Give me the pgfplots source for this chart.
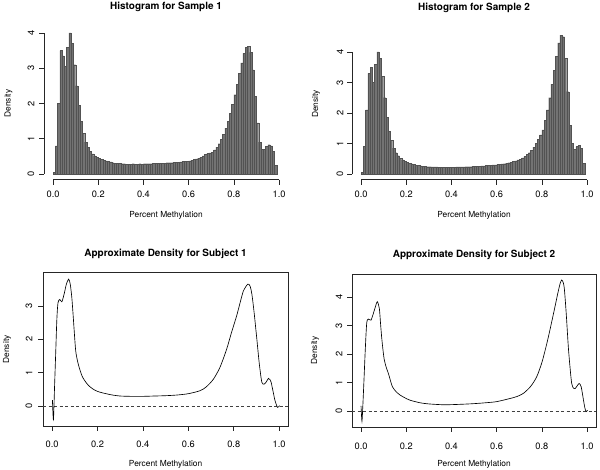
\documentclass[border=0pt]{standalone}
\usepackage{pgfplots}
\pgfplotsset{compat=1.18}
\usepackage{fontspec}
\setmainfont{TeX Gyre Heros}

\pgfplotstableread{
x y
0.00 0.05
0.01 0.8
0.02 2.0
0.03 3.5
0.04 3.35
0.05 3.05
0.06 3.6
0.07 4.0
0.08 3.7
0.09 3.1
0.10 2.5
0.11 1.95
0.12 1.5
0.13 1.15
0.14 0.9
0.15 0.75
0.16 0.64
0.17 0.57
0.18 0.51
0.19 0.47
0.20 0.44
0.21 0.41
0.22 0.39
0.23 0.37
0.24 0.35
0.25 0.34
0.26 0.32
0.27 0.31
0.28 0.30
0.29 0.30
0.30 0.29
0.31 0.29
0.32 0.28
0.33 0.28
0.34 0.28
0.35 0.29
0.36 0.28
0.37 0.28
0.38 0.29
0.39 0.28
0.40 0.29
0.41 0.29
0.42 0.29
0.43 0.29
0.44 0.30
0.45 0.30
0.46 0.30
0.47 0.31
0.48 0.30
0.49 0.31
0.50 0.32
0.51 0.32
0.52 0.32
0.53 0.33
0.54 0.33
0.55 0.33
0.56 0.34
0.57 0.35
0.58 0.35
0.59 0.36
0.60 0.37
0.61 0.39
0.62 0.41
0.63 0.43
0.64 0.45
0.65 0.48
0.66 0.51
0.67 0.55
0.68 0.58
0.69 0.60
0.70 0.62
0.71 0.68
0.72 0.76
0.73 0.86
0.74 0.98
0.75 1.12
0.76 1.3
0.77 1.5
0.78 1.72
0.79 1.98
0.80 2.25
0.81 2.55
0.82 2.85
0.83 3.15
0.84 3.42
0.85 3.6
0.86 3.62
0.87 3.45
0.88 2.95
0.89 2.2
0.90 1.45
0.91 0.9
0.92 0.7
0.93 0.7
0.94 0.78
0.95 0.83
0.96 0.8
0.97 0.65
0.98 0.25
0.99 0
}\histA

\pgfplotstableread{
x y
0.00 0.05
0.01 0.9
0.02 2.1
0.03 3.3
0.04 3.5
0.05 3.0
0.06 3.6
0.07 4.0
0.08 3.8
0.09 3.2
0.10 2.5
0.11 1.85
0.12 1.4
0.13 1.1
0.14 0.85
0.15 0.7
0.16 0.6
0.17 0.52
0.18 0.46
0.19 0.41
0.20 0.38
0.21 0.35
0.22 0.33
0.23 0.31
0.24 0.29
0.25 0.28
0.26 0.27
0.27 0.26
0.28 0.25
0.29 0.24
0.30 0.24
0.31 0.23
0.32 0.23
0.33 0.23
0.34 0.22
0.35 0.22
0.36 0.22
0.37 0.22
0.38 0.22
0.39 0.22
0.40 0.22
0.41 0.22
0.42 0.23
0.43 0.23
0.44 0.23
0.45 0.23
0.46 0.24
0.47 0.24
0.48 0.24
0.49 0.25
0.50 0.25
0.51 0.26
0.52 0.26
0.53 0.27
0.54 0.27
0.55 0.28
0.56 0.28
0.57 0.29
0.58 0.30
0.59 0.30
0.60 0.31
0.61 0.32
0.62 0.33
0.63 0.34
0.64 0.36
0.65 0.37
0.66 0.39
0.67 0.41
0.68 0.43
0.69 0.46
0.70 0.49
0.71 0.53
0.72 0.58
0.73 0.64
0.74 0.70
0.75 0.78
0.76 0.88
0.77 1.0
0.78 1.13
0.79 1.28
0.80 1.45
0.81 1.75
0.82 2.1
0.83 2.5
0.84 2.95
0.85 3.4
0.86 3.85
0.87 4.3
0.88 4.55
0.89 4.5
0.90 3.8
0.91 2.7
0.92 1.6
0.93 1.0
0.94 0.8
0.95 0.9
0.96 0.95
0.97 0.85
0.98 0.35
0.99 0
}\histB

\pgfplotstableread{
x y
0.0015 0.18
0.006 -0.41
0.011 0.6
0.016 1.6
0.021 2.6
0.026 3.1
0.034 3.2
0.043 3.13
0.053 3.36
0.063 3.66
0.073 3.81
0.080 3.66
0.087 3.25
0.093 2.7
0.098 2.2
0.104 1.66
0.112 1.35
0.122 1.1
0.132 0.9
0.144 0.76
0.160 0.62
0.180 0.51
0.200 0.44
0.225 0.39
0.266 0.33
0.300 0.30
0.350 0.29
0.400 0.29
0.450 0.30
0.500 0.31
0.550 0.33
0.600 0.37
0.652 0.46
0.680 0.58
0.711 0.81
0.740 1.17
0.769 1.71
0.790 2.2
0.813 2.71
0.830 3.15
0.843 3.46
0.862 3.66
0.872 3.6
0.880 3.36
0.890 2.8
0.902 2.0
0.913 1.25
0.924 0.71
0.935 0.66
0.945 0.74
0.953 0.83
0.960 0.79
0.965 0.71
0.973 0.45
0.982 0.16
0.993 -0.04
1.002 0.01
}\densA

\pgfplotstableread{
x y
0.000 0.18
0.004 -0.36
0.008 0.2
0.013 1.09
0.019 2.2
0.025 3.08
0.032 3.23
0.044 3.19
0.057 3.49
0.065 3.7
0.072 3.84
0.081 3.6
0.086 3.1
0.091 2.61
0.097 2.15
0.103 1.79
0.112 1.52
0.121 1.32
0.130 1.07
0.139 0.85
0.155 0.68
0.173 0.56
0.195 0.46
0.217 0.38
0.261 0.29
0.300 0.25
0.370 0.22
0.450 0.24
0.500 0.26
0.550 0.29
0.600 0.33
0.659 0.44
0.690 0.51
0.718 0.62
0.750 0.86
0.777 1.2
0.800 1.7
0.822 2.37
0.840 3.0
0.858 3.66
0.871 4.15
0.881 4.48
0.888 4.6
0.895 4.5
0.900 4.25
0.908 3.4
0.917 2.26
0.925 1.5
0.932 0.97
0.940 0.8
0.947 0.79
0.955 0.87
0.965 0.97
0.974 0.85
0.984 0.39
0.990 0.12
0.996 -0.02
1.002 0.03
}\densB

\tikzset{rline/.style={line width=0.6bp, draw=black!85},
  tl/.style={font=\fontsize{9.3}{11}\selectfont}}

\begin{document}
\begin{tikzpicture}[font=\fontsize{8.4}{10}\selectfont]
\useasboundingbox (0,0) rectangle (600bp,470bp);

% ---------- Top left: histogram 1
\begin{axis}[at={(44bp,290.4bp)}, anchor=south west, scale only axis,
  width=244.1bp, height=152.3bp, xmin=-0.04, xmax=1.04, ymin=-0.16, ymax=4.16,
  hide axis, clip=false]
\addplot[ybar interval, fill=black!55, draw=black!68, line width=0.25bp] table[x=x,y=y] {\histA};
\draw[rline] (axis cs:0,-0.16) -- (axis cs:1,-0.16);
\pgfplotsinvokeforeach{0.0,0.2,0.4,0.6,0.8,1.0}{
  \draw[rline] (axis cs:#1,-0.16) -- ++(0bp,-5bp);
  \node[tl] at ([yshift=-14.5bp]axis cs:#1,-0.16) {#1};
}
\draw[rline] (axis cs:-0.04,0) -- (axis cs:-0.04,4);
\pgfplotsinvokeforeach{0,1,2,3,4}{
  \draw[rline] (axis cs:-0.04,#1) -- ++(-5bp,0bp);
  \node[tl,rotate=90] at ([xshift=-13bp]axis cs:-0.04,#1) {#1};
}
\node at ([yshift=-36bp]axis cs:0.5,-0.16) {Percent Methylation};
\node[rotate=90] at ([xshift=-35.5bp]axis cs:-0.04,2) {Density};
\node[font=\bfseries\fontsize{10}{12}\selectfont] at ([yshift=20bp]axis cs:0.5,4.16) {Histogram for Sample 1};
\end{axis}

% ---------- Top right: histogram 2
\begin{axis}[at={(352bp,290.2bp)}, anchor=south west, scale only axis,
  width=244.1bp, height=151.6bp, xmin=-0.04, xmax=1.04, ymin=-0.19, ymax=4.78,
  hide axis, clip=false]
\addplot[ybar interval, fill=black!55, draw=black!68, line width=0.25bp] table[x=x,y=y] {\histB};
\draw[rline] (axis cs:0,-0.19) -- (axis cs:1,-0.19);
\pgfplotsinvokeforeach{0.0,0.2,0.4,0.6,0.8,1.0}{
  \draw[rline] (axis cs:#1,-0.19) -- ++(0bp,-5bp);
  \node[tl] at ([yshift=-14.5bp]axis cs:#1,-0.19) {#1};
}
\draw[rline] (axis cs:-0.04,0) -- (axis cs:-0.04,4);
\pgfplotsinvokeforeach{0,1,2,3,4}{
  \draw[rline] (axis cs:-0.04,#1) -- ++(-5bp,0bp);
  \node[tl,rotate=90] at ([xshift=-12bp]axis cs:-0.04,#1) {#1};
}
\node at ([yshift=-36bp]axis cs:0.5,-0.19) {Percent Methylation};
\node[rotate=90] at ([xshift=-36bp]axis cs:-0.04,2.3) {Density};
\node[font=\bfseries\fontsize{10}{12}\selectfont] at ([yshift=20bp]axis cs:0.5,4.78) {Histogram for Sample 2};
\end{axis}

% ---------- Bottom left: density 1
\begin{axis}[at={(43bp,44bp)}, anchor=south west, scale only axis,
  width=245.2bp, height=153.2bp, xmin=-0.04, xmax=1.04, ymin=-0.6, ymax=4.0,
  hide axis, clip=false]
\draw[rline] (axis cs:-0.04,-0.6) rectangle (axis cs:1.04,4.0);
\draw[black!75, line width=0.6bp, dash pattern=on 3bp off 2.5bp] (axis cs:-0.04,0) -- (axis cs:1.04,0);
\addplot[black, line width=0.65bp, smooth, tension=0.45] table[x=x,y=y] {\densA};
\pgfplotsinvokeforeach{0.0,0.2,0.4,0.6,0.8,1.0}{
  \draw[rline] (axis cs:#1,-0.6) -- ++(0bp,-5bp);
  \node[tl] at ([yshift=-18bp]axis cs:#1,-0.6) {#1};
}
\pgfplotsinvokeforeach{0,1,2,3}{
  \draw[rline] (axis cs:-0.04,#1) -- ++(-5bp,0bp);
  \node[tl,rotate=90] at ([xshift=-14bp]axis cs:-0.04,#1) {#1};
}
\node at ([yshift=-38bp]axis cs:0.5,-0.6) {Percent Methylation};
\node[rotate=90] at ([xshift=-36bp]axis cs:-0.04,1.7) {Density};
\node[font=\bfseries\fontsize{10}{12}\selectfont] at ([yshift=19bp]axis cs:0.5,4.0) {Approximate Density for Subject 1};
\end{axis}

% ---------- Bottom right: density 2
\begin{axis}[at={(352bp,43bp)}, anchor=south west, scale only axis,
  width=244.1bp, height=153bp, xmin=-0.04, xmax=1.04, ymin=-0.56, ymax=4.81,
  hide axis, clip=false]
\draw[rline] (axis cs:-0.04,-0.56) rectangle (axis cs:1.04,4.81);
\draw[black!75, line width=0.6bp, dash pattern=on 3bp off 2.5bp] (axis cs:-0.04,0) -- (axis cs:1.04,0);
\addplot[black, line width=0.65bp, smooth, tension=0.45] table[x=x,y=y] {\densB};
\pgfplotsinvokeforeach{0.0,0.2,0.4,0.6,0.8,1.0}{
  \draw[rline] (axis cs:#1,-0.56) -- ++(0bp,-5bp);
  \node[tl] at ([yshift=-19bp]axis cs:#1,-0.56) {#1};
}
\pgfplotsinvokeforeach{0,1,2,3,4}{
  \draw[rline] (axis cs:-0.04,#1) -- ++(-5bp,0bp);
  \node[tl,rotate=90] at ([xshift=-13bp]axis cs:-0.04,#1) {#1};
}
\node at ([yshift=-37bp]axis cs:0.5,-0.56) {Percent Methylation};
\node[rotate=90] at ([xshift=-37bp]axis cs:-0.04,2.125) {Density};
\node[font=\bfseries\fontsize{10}{12}\selectfont] at ([yshift=19bp]axis cs:0.5,4.81) {Approximate Density for Subject 2};
\end{axis}
\end{tikzpicture}
\end{document}
